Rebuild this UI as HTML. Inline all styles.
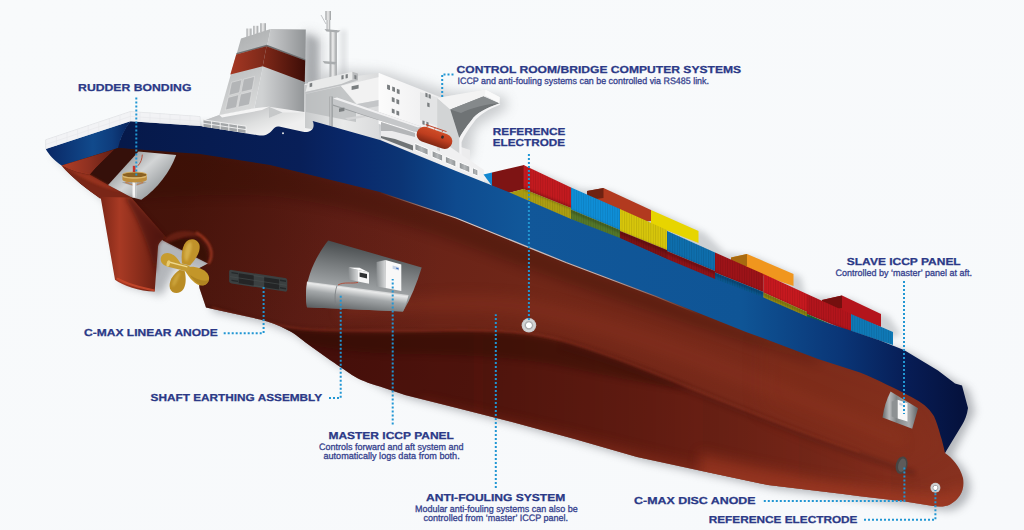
<!DOCTYPE html>
<html lang="en">
<head>
<meta charset="utf-8">
<title>ICCP and anti-fouling system ship diagram</title>
<style>
html,body{margin:0;padding:0;background:#f8fafb;}
body{width:1024px;height:530px;overflow:hidden;font-family:"Liberation Sans",sans-serif;}
svg{display:block;}
.h{font-family:"Liberation Sans",sans-serif;font-weight:700;font-size:10.1px;fill:#2b3987;stroke:#2b3987;stroke-width:0.25px;text-rendering:geometricPrecision;}
.s{font-family:"Liberation Sans",sans-serif;font-weight:400;font-size:9.3px;fill:#36428e;stroke:#36428e;stroke-width:0.3px;text-rendering:geometricPrecision;}
.dot{fill:none;stroke:#2196d3;stroke-width:2;stroke-dasharray:2 2;}
</style>
</head>
<body>
<svg width="1024" height="530" viewBox="0 0 1024 530">
<defs>
  <linearGradient id="gBg" x1="0" y1="0" x2="1" y2="1">
    <stop offset="0" stop-color="#f8fafb"/><stop offset="1" stop-color="#f7f9fb"/>
  </linearGradient>
  <filter id="blur3" x="-20%" y="-20%" width="140%" height="140%"><feGaussianBlur stdDeviation="3"/></filter>
  <filter id="blur4" x="-20%" y="-20%" width="140%" height="140%"><feGaussianBlur stdDeviation="4.5"/></filter>
  <filter id="blur6" x="-20%" y="-20%" width="140%" height="140%"><feGaussianBlur stdDeviation="6"/></filter>
  <filter id="blur10" x="-30%" y="-30%" width="160%" height="160%"><feGaussianBlur stdDeviation="10"/></filter>
  <filter id="blur1" x="-20%" y="-20%" width="140%" height="140%"><feGaussianBlur stdDeviation="1"/></filter>
  <filter id="blur2" x="-20%" y="-20%" width="140%" height="140%"><feGaussianBlur stdDeviation="2"/></filter>

  <!-- hull red -->
  <linearGradient id="gHull" gradientUnits="userSpaceOnUse" x1="200" y1="160" x2="960" y2="470">
    <stop offset="0" stop-color="#4f170d"/>
    <stop offset="0.18" stop-color="#642017"/>
    <stop offset="0.45" stop-color="#712718"/>
    <stop offset="0.8" stop-color="#7b2b1b"/>
    <stop offset="1" stop-color="#87311f"/>
  </linearGradient>
  <linearGradient id="gHullLow" gradientUnits="userSpaceOnUse" x1="560" y1="330" x2="520" y2="440">
    <stop offset="0" stop-color="#3e1009" stop-opacity="0.95"/>
    <stop offset="0.35" stop-color="#571a0e" stop-opacity="0.8"/>
    <stop offset="1" stop-color="#7a2a19" stop-opacity="0"/>
  </linearGradient>
  <!-- blue band -->
  <linearGradient id="gBlue" gradientUnits="userSpaceOnUse" x1="120" y1="0" x2="960" y2="0">
    <stop offset="0" stop-color="#06194a"/>
    <stop offset="0.214" stop-color="#081f58"/>
    <stop offset="0.274" stop-color="#09286a"/>
    <stop offset="0.333" stop-color="#0b3474"/>
    <stop offset="0.4" stop-color="#0e4a8e"/>
    <stop offset="0.476" stop-color="#115799"/>
    <stop offset="0.74" stop-color="#0f5596"/>
    <stop offset="0.86" stop-color="#0a3576"/>
    <stop offset="0.94" stop-color="#071c54"/>
    <stop offset="1" stop-color="#05123e"/>
  </linearGradient>
  <linearGradient id="gSternDark" gradientUnits="userSpaceOnUse" x1="130" y1="0" x2="440" y2="0">
    <stop offset="0" stop-color="#2a0904" stop-opacity="0.3"/>
    <stop offset="0.45" stop-color="#2a0904" stop-opacity="0.2"/>
    <stop offset="1" stop-color="#2a0904" stop-opacity="0"/>
  </linearGradient>
  <linearGradient id="gTransomBlue" gradientUnits="userSpaceOnUse" x1="50" y1="0" x2="128" y2="0">
    <stop offset="0" stop-color="#0a2a68"/>
    <stop offset="0.55" stop-color="#114a8c"/>
    <stop offset="0.8" stop-color="#0e3c7c"/>
    <stop offset="1" stop-color="#082660"/>
  </linearGradient>
  <linearGradient id="gTransomRed" gradientUnits="userSpaceOnUse" x1="62" y1="0" x2="116" y2="0">
    <stop offset="0" stop-color="#b03e26"/>
    <stop offset="0.5" stop-color="#8e3020"/>
    <stop offset="1" stop-color="#5e1d12"/>
  </linearGradient>
  <linearGradient id="gRudder" gradientUnits="userSpaceOnUse" x1="100" y1="0" x2="165" y2="0">
    <stop offset="0" stop-color="#7a2516"/>
    <stop offset="0.3" stop-color="#a83a24"/>
    <stop offset="0.6" stop-color="#8a2d1b"/>
    <stop offset="1" stop-color="#5c1a0f"/>
  </linearGradient>
</defs>

<rect width="1024" height="530" fill="url(#gBg)"/>

<g id="shadow" opacity="0.5" filter="url(#blur4)" transform="translate(7,4)">
  <path fill="#6f737a" d="M61.5,165 L45.8,149 L130.4,121.2 L315,121.3 L380,140 L456,171 L508.5,192 L667,259 L807,316.5 L904,350 L962,385.5 L968,408 L945,453
    C952,458 960,466 963,478 C965,490 960,499 950,504.5 C945,507 938,507 930,505.5 L905,501.5 L843,494 L768,485 L699.5,470.5 L637,457 L574.5,439 L512,422 L455,407.5 L405,395 L380,386.5 L330,360 L287.5,330 L260,319.5 L206,307.5 L199.4,288 L197.5,269 L170,262 L154.7,291.6 L115,279.8 L100,198 Z"/>
</g>

<g id="super">
  <defs>
    <linearGradient id="gFunL" gradientUnits="userSpaceOnUse" x1="225" y1="40" x2="262" y2="110">
      <stop offset="0" stop-color="#aeb0b1"/><stop offset="0.5" stop-color="#c4c6c7"/><stop offset="1" stop-color="#dcdddd"/>
    </linearGradient>
    <linearGradient id="gFunR" gradientUnits="userSpaceOnUse" x1="262" y1="0" x2="306" y2="0">
      <stop offset="0" stop-color="#d0d2d3"/><stop offset="0.5" stop-color="#b2b4b6"/><stop offset="1" stop-color="#909395"/>
    </linearGradient>
    <linearGradient id="gRedL" gradientUnits="userSpaceOnUse" x1="230" y1="0" x2="266" y2="0">
      <stop offset="0" stop-color="#a63823"/><stop offset="1" stop-color="#7a2819"/>
    </linearGradient>
    <linearGradient id="gRedR" gradientUnits="userSpaceOnUse" x1="264" y1="0" x2="306" y2="0">
      <stop offset="0" stop-color="#7e2818"/><stop offset="1" stop-color="#3c0d07"/>
    </linearGradient>
    <linearGradient id="gPipe" x1="0" y1="0" x2="1" y2="0">
      <stop offset="0" stop-color="#9a9d9f"/><stop offset="0.45" stop-color="#eeeeee"/><stop offset="1" stop-color="#9a9d9f"/>
    </linearGradient>
    <linearGradient id="gWallL" gradientUnits="userSpaceOnUse" x1="305" y1="0" x2="381" y2="0">
      <stop offset="0" stop-color="#c9cbcc"/><stop offset="0.5" stop-color="#e9eaea"/><stop offset="1" stop-color="#d9dadb"/>
    </linearGradient>
    <linearGradient id="gWallR" gradientUnits="userSpaceOnUse" x1="381" y1="0" x2="470" y2="0">
      <stop offset="0" stop-color="#fbfbfb"/><stop offset="0.6" stop-color="#eeeeef"/><stop offset="1" stop-color="#d8d9da"/>
    </linearGradient>
    <linearGradient id="gBaseV" gradientUnits="userSpaceOnUse" x1="240" y1="108" x2="250" y2="138">
      <stop offset="0" stop-color="#bfc1c3"/><stop offset="0.6" stop-color="#dfe0e0"/><stop offset="1" stop-color="#efefef"/>
    </linearGradient>
    <linearGradient id="gWin" x1="0" y1="0" x2="1" y2="0">
      <stop offset="0" stop-color="#8a8e90"/><stop offset="0.5" stop-color="#b3b6b8"/><stop offset="1" stop-color="#8e9294"/>
    </linearGradient>
    <linearGradient id="gBase" gradientUnits="userSpaceOnUse" x1="205" y1="0" x2="330" y2="0">
      <stop offset="0" stop-color="#cfd0d1"/><stop offset="0.5" stop-color="#ebebec"/><stop offset="1" stop-color="#f6f6f6"/>
    </linearGradient>
  </defs>

  <!-- soft shadow behind superstructure -->
  <path d="M306,30 L322,38 L322,75 L345,70 L385,72 L450,92 L505,96 L508,108 L475,128 L470,160 L300,120 Z" fill="#8a8d91" opacity="0.4" filter="url(#blur6)"/>
  <path d="M304,32 L318,40 L318,84 L304,88 Z" fill="#7d8084" opacity="0.45" filter="url(#blur3)"/>

  <!-- exhaust pipes -->
  <rect x="246.5" y="28.5" width="5" height="9" fill="url(#gPipe)"/>
  <rect x="253.3" y="25.8" width="5" height="9" fill="url(#gPipe)"/>
  <rect x="260.3" y="23.2" width="5.6" height="9" fill="url(#gPipe)"/>

  <!-- funnel -->
  <path d="M270.6,28.9 L305.8,29.6 L304.5,118 L254.4,108.2 Z" fill="url(#gFunR)"/>
  <path d="M241,38.6 L270.6,28.9 L254.4,108.2 L219.3,115.1 Z" fill="url(#gFunL)"/>
  <path d="M236.6,53 L266.8,44.8 L305.3,59.2 L305.2,60.8 L266.5,46.4 L236.2,54.6 Z" fill="#6c6f71"/>
  <path d="M236.2,54.4 L266.5,46.2 L262.7,66.2 L230.3,74.5 Z" fill="url(#gRedL)"/>
  <path d="M266.5,46.2 L305.2,60.6 L304.7,82 L262.7,66.2 Z" fill="url(#gRedR)"/>
  <!-- funnel louvres -->
  <g fill="#b3b5b7" stroke="#e6e6e6" stroke-width="0.5">
    <path d="M231.5,82.3 L241.9,79.6 L239.4,92.6 L228.8,95.4 Z"/>
    <path d="M243.6,79.2 L254.6,76.4 L252.2,89.6 L241,92.2 Z"/>
    <path d="M228.2,97.4 L238.9,94.6 L236.4,107.4 L225.4,110 Z"/>
    <path d="M240.6,94.2 L251.8,91.4 L249.3,104.6 L238,107.2 Z"/>
  </g>

  <!-- mast -->
  <rect x="340" y="30" width="7" height="48" fill="#9a9da1" opacity="0.22" filter="url(#blur2)"/>
  <rect x="329.6" y="30" width="7.2" height="50" fill="url(#gPipe)"/>
  <rect x="326.6" y="19" width="3.6" height="11" fill="url(#gPipe)"/>
  <rect x="325.4" y="11" width="5.6" height="9" fill="url(#gPipe)"/>
  <path d="M324.5,29 L340.5,30.5 L338,32.6 L326.5,31.6 Z" fill="#a9acae"/>
  <path d="M322.6,61 L336.5,62 L335,64.4 L324.6,63.6 Z" fill="#a9acae"/>
  <path d="M321,15 L326,24" stroke="#9da0a2" stroke-width="0.6"/>

  <!-- deckhouse base under funnel -->
  <path d="M203,121 L219.3,115.1 L254.4,108.2 L269,106.8 L304.5,112 L304.5,84 L341,78 L341,140 L203,140 Z" fill="url(#gBase)"/>
  <path d="M219.3,115.1 L254.4,108.2 L269,106.8 L269,118 L282.5,112.4 L304.5,112.4 L304.5,140 L203,140 L203,121 Z" fill="url(#gBaseV)"/>
  <path d="M269,106.8 L269,118 L282.5,112.4 Z" fill="#c6c8c9"/>
  <path d="M219.3,115.1 L254.4,108.2 L269,106.8 L262,110 L222,117.5 Z" fill="#f5f5f5"/>

  <!-- accommodation: left (aft) faces -->
  <path d="M305,85 L341,78 L379,73 L379,140 L305,128 Z" fill="url(#gWallL)"/>
  <!-- upper bridge deck box -->
  <path d="M308.3,82 L352.4,71.7 L358,73.4 L358,80.5 L341.3,84 L305.5,92 Z" fill="#e9eaea"/>
  <path d="M352.4,71.7 L358,73.4 L358,80.5 L352.4,79.4 Z" fill="#b9bbbd"/>
  <path d="M305.5,92 L341.3,84 L352.4,79.4 L358,80.5 L341.3,85.6 L305.5,93.6 Z" fill="#bfc1c3"/>
  <!-- recess shadow on aft face -->
  <path d="M306,94 L341,86 L356,104 L356,122 L306,112 Z" fill="#b7b9bb" opacity="0.75"/>
  <path d="M341,86 L379,77 L379,100 L357,104 Z" fill="#f2f2f2"/>
  <path d="M357,104 L379,100 L379,106 L357,110 Z" fill="#c4c6c8"/>
  <!-- vertical pole -->
  <rect x="329.6" y="96.5" width="3" height="30" fill="#8f9294"/>
  <rect x="330.4" y="96.5" width="1" height="30" fill="#dfe0e1"/>
  <!-- main block right face -->
  <path d="M379,73 L440,97 L440,142 L379,124 Z" fill="url(#gWallR)"/>
  <path d="M379,73 L379,124" stroke="#ffffff" stroke-width="0.8"/>
  <!-- diagonal beam (gangway) -->
  <path d="M345,118 L365,115 L372,110 L377,110 L370,116.5 L348,120 Z" fill="#d4d5d6"/>
  <path d="M333,98.4 L337,97.6 L421,126.4 L421,132.6 L414,131.6 L333,104.6 Z" fill="#c5c7c9"/>
  <path d="M333,98.4 L337,97.6 L421,126.4 L418,127.6 Z" fill="#f1f1f2"/>
  <path d="M333,104.6 L414,131.6 L421,132.6 L421,133.6 L333,105.8 Z" fill="#9a9d9f"/>
  <!-- lower deck / boat deck -->
  <path d="M381,122 L440,140 L470,150 L470,176 L381,140 Z" fill="#ececed"/>
  <path d="M381,122 L415,133 L415,137 L392,131 L381,131 Z" fill="#b4b6b8"/>
  <!-- bridge block -->
  <path d="M420,92 L437,97.5 L437,126 L420,120 Z" fill="#e3e4e5"/>
  <path d="M437.2,97.9 L485.4,89.6 L499.9,97.2 L499.6,103 L483.4,96.6 L450.3,109.6 L459.3,137.9 L460.6,160 L437.2,150 Z" fill="#e4e5e6"/>
  <path d="M437.2,97.9 L450.3,109.6 L459.3,137.9 L460.6,160 L437.2,150 Z" fill="#d2d4d5"/>
  <path d="M437.2,97.9 L485.4,89.6 L499.9,97.2 L483,96.3 L450.3,109.6 Z" fill="#f3f3f3"/>
  <path d="M485.4,89.6 L499.9,97.2 L499.4,103.2 L485,95.5 Z" fill="#fafafa"/>
  <path d="M450.3,109.6 L483.4,96.5 L499.2,103.4 C486,108 476,113 471.7,120 C466,127 462,133 459.3,137.9 Z" fill="#6f7375"/>
  <path d="M450.3,109.6 L483.4,96.5 L499.2,103.4 C490,103 470,108 461,113 Z" fill="#8b8f91" opacity="0.8"/>
  <!-- column under bridge wing -->
  <path d="M459.3,137.9 C462,133 466,127 471.7,120 C476,113 486,108 499.2,103.4 L500.4,104.6 C488,109.6 479,115 474,122 C468.5,129 464,136 461.6,142 L461.6,168 L459.3,166 Z" fill="#f4f4f5"/>
  <!-- windows on main block -->
  <g fill="#6e7274">
    <rect x="387.4" y="85" width="2.6" height="4" transform="skewY(20) translate(0,-141)"/>
  </g>
  <g fill="#7a7e80">
    <path d="M387.2,84.6 L390,85.6 L390,90 L387.2,89 Z"/><path d="M392.2,86.6 L395,87.6 L395,92 L392.2,91 Z"/><path d="M396.8,88.8 L399.6,89.8 L399.6,94.2 L396.8,93.2 Z"/>
    <path d="M391.8,97 L394.6,98 L394.6,102.4 L391.8,101.4 Z"/><path d="M396.4,99 L399.2,100 L399.2,104.4 L396.4,103.4 Z"/>
    <path d="M391.8,108.4 L394.6,109.4 L394.6,113.8 L391.8,112.8 Z"/><path d="M396.4,110.4 L399.2,111.4 L399.2,115.8 L396.4,114.8 Z"/>
    <path d="M425.4,92.8 L427.6,93.5 L427.6,97.5 L425.4,96.8 Z"/><path d="M428.6,94 L430.8,94.7 L430.8,98.7 L428.6,98 Z"/>
    <path d="M427.2,102.4 L429.6,103.2 L429.6,107.2 L427.2,106.4 Z"/>
    <path d="M422.4,120.4 L424.6,121.1 L424.6,125 L422.4,124.3 Z"/><path d="M426.4,121.8 L428.6,122.5 L428.6,126.4 L426.4,125.7 Z"/>
    <path d="M341.4,75.6 L343.6,75.1 L343.6,79 L341.4,79.5 Z"/><path d="M345.6,74.6 L347.8,74.1 L347.8,78 L345.6,78.5 Z"/>
    <path d="M354.4,75 L356.4,75.6 L356.4,79.4 L354.4,78.8 Z"/>
    <path d="M309.6,83.4 L312.2,82.8 L312.2,86.6 L309.6,87.2 Z"/>
    <path d="M351.6,86.2 L358.6,84.8 L358.6,88.6 L351.6,90 Z"/>
    <path d="M339,108.6 L344.4,107.6 L344.4,111 L339,112 Z"/>
  </g>
  <!-- lower deck windows -->
  <path d="M440,140 L484,170 L484,184 L440,166 Z" fill="#f0f0f1"/>
  <g fill="url(#gWin)" stroke="#fdfdfd" stroke-width="1">
    <path d="M414.9,143.4 L428.1,148.9 L428.1,155.3 L414.9,149.8 Z"/>
    <path d="M432.1,150.6 L442.7,155 L442.7,161.4 L432.1,157 Z"/>
    <path d="M445.3,156.2 L455.9,160.6 L455.9,167 L445.3,162.6 Z"/>
    <path d="M459.2,162 L469.8,166.4 L469.8,172.8 L459.2,168.4 Z"/>
    <path d="M472.4,167.6 L477.9,169.9 L477.9,176.1 L472.4,173.8 Z"/>
  </g>
  <path d="M381,138 L413,150.6 L413,145.4 L395,139 L381,136 Z" fill="#707476"/>
  <!-- lifeboat -->
  <linearGradient id="gBoat" gradientUnits="userSpaceOnUse" x1="0" y1="129" x2="0" y2="147">
    <stop offset="0" stop-color="#d24e28"/><stop offset="0.45" stop-color="#bf3e1f"/><stop offset="1" stop-color="#742210"/>
  </linearGradient>
  <g transform="rotate(19 434.5 137.5)">
    <rect x="416.2" y="130.2" width="36.8" height="15.2" rx="7.6" ry="7.6" fill="url(#gBoat)"/>
    <rect x="422" y="127.6" width="22" height="0.9" fill="#c0452b"/>
    <path d="M424,128 L424,130 M432,128 L432,130 M440,128 L440,130" stroke="#c0452b" stroke-width="0.7"/>
    <rect x="440.6" y="133" width="2.6" height="3" rx="1" fill="#34292a"/>
  </g>
</g>

<g id="containers">
  <defs>
    <pattern id="ribs" width="2.4" height="10" patternUnits="userSpaceOnUse" patternTransform="skewY(23)">
      <rect x="0" y="0" width="0.9" height="10" fill="#000" opacity="0.10"/>
    </pattern>
  </defs>
  <!-- soft shadow behind containers -->
  <path d="M525,166 L575,186 L605,188 L655,210 L700,230 L720,250 L750,254 L796,274 L800,292 L845,296 L884,314 L896,332 L860,340 L520,200 Z" fill="#7f8388" opacity="0.35" filter="url(#blur3)" transform="translate(5,3)"/>

  <!-- back row (far side) -->
  <path d="M587,191 L603.5,188 L651,210 L651,221 L620,224 Z" fill="#b23a1f"/>
  <path d="M587,191 L603.5,188 L603.5,198 L587,200 Z" fill="#6e2212"/>
  <path d="M651,210 L698.5,231 L698.5,243 L651,224 Z" fill="#e7d500"/>
  <path d="M731,257.5 L747,254 L793.5,274 L793.5,286 L747,270 Z" fill="#f0961e"/>
  <path d="M731,257.5 L747,254 L747,266 L731,268 Z" fill="#a86a10"/>
  <path d="M822,300 L842,295.5 L881,314 L881,327 L842,312 Z" fill="#b4151c"/>
  <path d="M822,300 L842,295.5 L842,308 L822,311 Z" fill="#74100f"/>

  <!-- stack 1: red over yellow -->
  <path d="M492,172.5 L524.2,164.9 L524.2,189 L508.5,193 L492,186 Z" fill="#7e1414"/>
  <path d="M508.5,193 L524.2,188.8 L524.2,199.3 Z" fill="#a89a10"/>
  <path d="M523.5,165 L571,187.5 L571,208 L523.5,189 Z" fill="#c41a1f"/>
  <path d="M523.5,189 L571,208 L571,220 L523.5,199 Z" fill="#ad9f12"/>
  <!-- blue over green -->
  <path d="M571,187.5 L620,209 L620,230 L571,209.5 Z" fill="#0f8fd8"/>
  <path d="M571,209.5 L620,230 L620,239 L571,219.5 Z" fill="#54782a"/>
  <!-- yellow over dark red -->
  <path d="M620,209 L667,230 L667,250 L620,231 Z" fill="#d8c70b"/>
  <path d="M620,231 L667,250 L667,259.5 L620,239 Z" fill="#7c1215"/>
  <!-- blue over red -->
  <path d="M667,231 L715,252.5 L715,271 L667,251 Z" fill="#0e6fae"/>
  <path d="M667,251 L715,271 L715,280 L667,260 Z" fill="#8e1318"/>
  <!-- dark red over blue -->
  <path d="M715,252.5 L763.5,274 L763.5,292 L715,272.5 Z" fill="#9e1318"/>
  <path d="M715,272.5 L763.5,292 L763.5,298.5 L715,280 Z" fill="#0b5890"/>
  <!-- red over olive -->
  <path d="M763.5,274 L807,294 L807,312 L763.5,292.5 Z" fill="#c8191f"/>
  <path d="M763.5,292.5 L807,312 L807,317.5 L763.5,298.5 Z" fill="#9a9014"/>
  <!-- red over green -->
  <path d="M807,294 L851,314 L851,332 L807,314 Z" fill="#b4151c"/>
  <path d="M807,314 L830,324 L807,318 Z" fill="#1f7a3a"/>
  <!-- blue -->
  <path d="M851,314 L893,332 L893,345 L851,331 Z" fill="#0f7ab8"/>
  <!-- small blue triangle near bridge -->
  <path d="M483.5,174.5 L492,172.5 L492,186 Z" fill="#1287d0"/>

  <!-- contact shadows -->
  <path d="M523.5,187 L571,206 L571,209.5 L620,230 L620,231 L667,250 L667,251 L715,271 L715,272.5 L763.5,292 L763.5,292.5 L807,312 L807,314 L851,331
   L851,334 L807,317 L807,315 L763.5,295.5 L763.5,295 L715,275.5 L715,274 L667,254 L667,253 L620,234 L620,233 L571,212.5 L571,209 L523.5,190 Z" fill="#000" opacity="0.22" filter="url(#blur1)"/>
  <!-- ribs overlay on side faces -->
  <path d="M523.5,165 L571,187.5 L620,209 L667,230 L715,252.5 L763.5,274 L807,294 L851,314 L893,332 L893,345 L851,331 L807,317.5 L763.5,298.5 L715,280 L667,260 L620,239 L571,220 L523.5,199 Z" fill="url(#ribs)"/>
</g>

<g id="hull">
  <!-- main red hull -->
  <path id="hullShape" fill="url(#gHull)" d="M61.5,165 L90,150 L118,140 L200,145 L270,155 L380,180 L456,205 L566,250 L656,285 L746,320 L818,348 L868,362 L894,372 L925,390 L945,412 L950,435 L945,453
    C952,458 960,466 963,478 C965,490 960,499 950,504.5 C945,507 938,507 930,505.5 L905,501.5 L860,496.3 L843,494 L768,485 L699.5,470.5 L637,457 L574.5,439 L512,422 L455,407.5 L405,395 L380,386.5 C368,383 360,380 352,375 C342,368 336,364 330,360 L312.5,347.5 C302,340 296,334 287.5,330 C278,325 270,322 260,319.5 L206,307.5 L199.4,288 L197.5,269 L208,263.5 L163,240.5 L131,198 L100,198 C88,190 72,178 61.5,165 Z"/>
  <clipPath id="cpHull"><path d="M61.5,165 L90,150 L118,140 L200,145 L270,155 L380,180 L456,205 L566,250 L656,285 L746,320 L818,348 L868,362 L894,372 L925,390 L945,412 L950,435 L945,453
    C952,458 960,466 963,478 C965,490 960,499 950,504.5 C945,507 938,507 930,505.5 L905,501.5 L860,496.3 L843,494 L768,485 L699.5,470.5 L637,457 L574.5,439 L512,422 L455,407.5 L405,395 L380,386.5 C368,383 360,380 352,375 C342,368 336,364 330,360 L312.5,347.5 C302,340 296,334 287.5,330 C278,325 270,322 260,319.5 L206,307.5 L199.4,288 L197.5,269 L208,263.5 L163,240.5 L131,198 L100,198 C88,190 72,178 61.5,165 Z"/></clipPath>
  <g clip-path="url(#cpHull)">
    <!-- darker stern area -->
    <rect x="60" y="120" width="400" height="260" fill="url(#gSternDark)"/>
    <path d="M118,146 L200,152 L270,163 L380,190 L456,216 L566,261 L656,295 L746,331 L818,358 L818,364 C760,348 700,328 640,308 C580,288 520,266 456,242 C400,222 330,202 270,196 C220,194 170,196 130,200 Z" fill="#2e0a04" opacity="0.33" filter="url(#blur6)"/>
    
    <!-- region below the crease: darker, fading toward the bow -->
    <linearGradient id="gBelow" gradientUnits="userSpaceOnUse" x1="220" y1="0" x2="930" y2="0">
      <stop offset="0" stop-color="#2e0904" stop-opacity="0.5"/>
      <stop offset="0.35" stop-color="#2e0904" stop-opacity="0.5"/>
      <stop offset="0.6" stop-color="#34100a" stop-opacity="0.34"/>
      <stop offset="0.85" stop-color="#3a120b" stop-opacity="0.12"/>
      <stop offset="1" stop-color="#3a120b" stop-opacity="0"/>
    </linearGradient>
    <path d="M205,306 C250,321 275,327 300,330 C340,333.5 400,332 450,331.5 C500,331 530,333 560,341 C600,352 640,368 690,389 C740,410 800,434 860,455 C890,466 915,474 935,480 L960,520 L200,520 Z" fill="url(#gBelow)" filter="url(#blur2)"/>
    <!-- extra dark just below the crease (aft/mid) -->
    <path d="M215,310 C250,321 275,327 300,330 C340,333.5 400,332 450,331.5 C500,331 530,333 560,341 C600,352 640,368 690,389 C650,386 600,374 550,364 C500,356 440,354 390,354 C350,352 320,348 300,342 C270,332 240,322 215,316 Z" fill="#2a0803" opacity="0.4" filter="url(#blur3)"/>
    <!-- thin crease shadow towards the bow -->
    <path d="M560,340 C620,356 680,380 740,405 C800,429 860,453 915,470 L915,476 C860,461 800,438 740,414 C680,390 620,367 560,350 Z" fill="#3a0e07" opacity="0.25" filter="url(#blur2)"/>
    <!-- crease highlight -->
    <path d="M212,307.5 C250,319.5 275,325.5 300,328.5 C340,332 400,330.5 450,330 C500,329.5 530,331.5 560,339.5 C600,350.5 640,366.5 690,387.5 C740,408 800,432 860,452" fill="none" stroke="#913621" stroke-width="2.2" opacity="0.55" filter="url(#blur1)"/>
    <!-- lighter bottom -->
    <path d="M420,400 C500,418 580,436 660,456 C760,480 860,494 950,500 L950,520 L420,520 Z" fill="#9a3822" opacity="0.4" filter="url(#blur6)"/>
    <path d="M700,452 C780,472 870,490 940,494 L968,484 L960,514 L700,500 Z" fill="#ac4027" opacity="0.5" filter="url(#blur6)"/>
    <!-- highlight above crease -->
    <path d="M340,318 C400,312 470,308 530,318 C600,332 680,362 760,394 C820,418 870,436 905,450 L900,430 C860,414 800,388 740,364 C680,340 600,312 530,298 C470,290 400,296 340,304 Z" fill="#8e3420" opacity="0.35" filter="url(#blur6)"/>
    <!-- bow upper is more orange -->
    <path d="M760,330 L900,380 L945,450 L900,470 L760,410 Z" fill="#93371f" opacity="0.12" filter="url(#blur10)"/>
  </g>
</g>

<g id="blueband">
  <path fill="url(#gBlue)" d="M130.4,121.2 L200,126 L258,135.2 C265,136.4 269,134 272,130.5 C274.5,127.5 276,126.2 279,126.6 L303,131.8 C308,132.8 312.4,131 313.4,127 C314,124 313.2,122 312.6,121 L380,140 L456,171 L508.5,192 L571,219 L620,238 L667,259 L715,279 L763.5,297.5 L807,316.5 L852,331 L880,340.5 L904,350 L938,370.5 L955,383.5 L962,385.5 L968,408 C967,415 965,420 962,425 L945,453
   C943.5,446 942,440 940.6,436 C938.5,428 936.5,421.5 934,416.2 C929,407.5 921,402 912.8,397.7 C904,393 895,388.5 886.4,384.5 C878,380.5 869,376 860,372.6 L818,359 L768,340 L746,332 L656,296 L566,262 L456,217.5 L380,192 L270,165 L200,154 L118,148.1 C120,138 124,129 130.4,121.2 Z"/>
  <!-- thin highlight at bottom edge of blue -->
  <linearGradient id="gHL" gradientUnits="userSpaceOnUse" x1="380" y1="0" x2="700" y2="0">
    <stop offset="0" stop-color="#e6ebf2" stop-opacity="0"/><stop offset="0.25" stop-color="#e6ebf2" stop-opacity="0.85"/><stop offset="0.7" stop-color="#e6ebf2" stop-opacity="0.7"/><stop offset="1" stop-color="#e6ebf2" stop-opacity="0"/>
  </linearGradient>
  <path fill="none" stroke="url(#gHL)" stroke-width="1.3" d="M380,192.5 L456,218 L566,262.5 L656,296.5 L700,314.5"/>
</g>

<g id="stern">
  <!-- transom blue -->
  <path fill="url(#gTransomBlue)" d="M45.8,149 L130.4,121.2 C124,130 120,139 118,148.1 L61.5,165.6 C54,160 49,155 45.8,149 Z"/>
  <!-- transom red (bright) -->
  <path fill="url(#gTransomRed)" d="M61.5,165.6 L114.7,149.3 C106,158 97,166 89.8,174.7 C78,173 69,170 61.5,165.6 Z"/>
  <!-- dark recess -->
  <path fill="#35100a" d="M114.7,149.3 L118,148.1 L138.5,150 L108.1,184.9 L89.8,174.7 C97,166 106,158 114.7,149.3 Z"/>
  <!-- stern lower curve (skeg top) -->
  <path fill="#7a2617" d="M61.5,165.6 C69,170 78,173 89.8,174.7 L108.1,184.9 L131.3,197.3 L128,200 L100,198.5 C88,190 72,178 61.5,165.6 Z"/>
  <path fill="#a33823" opacity="0.7" d="M61.5,165.6 C69,170 78,173 89.8,174.7 L108.1,184.9 L120,191.5 C105,189 85,181 61.5,165.6 Z" filter="url(#blur1)"/>
  <!-- gray cutaway (rudder bonding) -->
  <linearGradient id="gCutS" gradientUnits="userSpaceOnUse" x1="120" y1="150" x2="165" y2="200">
    <stop offset="0" stop-color="#7c8082"/><stop offset="0.45" stop-color="#d3d5d6"/><stop offset="0.75" stop-color="#a4a8aa"/><stop offset="1" stop-color="#808486"/>
  </linearGradient>
  <path fill="url(#gCutS)" d="M138.5,151.6 L176.2,155 C170,172 158,188 141.3,199.8 L131.3,197.3 L108.1,184.9 Z"/>
  <!-- rudder stock & bonding -->
  <path d="M121.8,182.6 L134.5,179.2 L146.8,182.6 L134.5,186.6 Z" fill="#9fa2a4"/>
  <path d="M125.5,182.6 L134.5,180.4 L143.2,182.6 L134.5,185.4 Z" fill="none" stroke="#c67a40" stroke-width="0.8"/>
  <rect x="132.5" y="181" width="3.8" height="16.6" fill="#f6f6f6"/>
  <rect x="135.2" y="181" width="1.1" height="16.6" fill="#b1b4b6"/>
  <!-- ring: back inner wall -->
  <ellipse cx="134.6" cy="174.8" rx="12.2" ry="2.7" fill="#8a6122"/>
  <!-- ring: front wall -->
  <path d="M122.4,174.8 C122.4,178.4 146.8,178.4 146.8,174.8 L146.8,179.6 C146.8,183.4 122.4,183.4 122.4,179.6 Z" fill="#bd8d3c"/>
  <path d="M122.4,174.8 C122.4,178.4 146.8,178.4 146.8,174.8 L146.8,176 C146.8,179.6 122.4,179.6 122.4,176 Z" fill="#ddb86a"/>
  <path d="M122.4,174.8 C122.4,171.2 146.8,171.2 146.8,174.8" fill="none" stroke="#d6ad5c" stroke-width="0.9"/>
  <path d="M142.3,154.6 C142,159 141,162.5 137.8,165.8" fill="none" stroke="#b5412a" stroke-width="0.9"/>
  <rect x="132.8" y="165.8" width="2.7" height="6.2" fill="#c5322a"/>
<!-- rudder -->
  <path fill="url(#gRudder)" d="M100.6,197 L131.3,197.5 L166.5,237.5 C161,240 158.5,243 158,247 L154.7,291.6 C147,291.5 139,290 132,287.7 C125,285.5 119,283 115,279.8 Z"/>
  <path fill="#c9492c" opacity="0.85" d="M116,279 C123,283.5 138,288.5 154.5,291.4 L154.7,289.5 C140,286.5 126,282.5 117.5,277.5 Z"/>
  <path fill="#3b0f08" opacity="0.5" d="M131.3,197.5 L166.5,237.5 C161,240 158.5,243 158,247 L156,275 C150,250 140,222 125,197.4 Z" filter="url(#blur2)"/>

  <!-- stern tube boss highlight -->
  <path fill="none" stroke="#a63a23" stroke-width="2.4" opacity="0.9" d="M196,232.5 C205,237 211.5,246 211.3,254 C211.2,259 210,262 208,263.6" filter="url(#blur1)"/>
  <path fill="#8c2e1b" opacity="0.45" d="M163,240.5 C168,235 176,231 185,231 C192,231 198,233 203,237 C196,235 188,235.5 181,238.5 C174,241.5 170,243 167.5,242.8 Z" filter="url(#blur1)"/>
  <path fill="#2c0a05" opacity="0.5" d="M167,242.6 L207,262.6 C209,255 206,246 199,240.5 C190,237 178,238 167,242.6 Z" filter="url(#blur1)"/>

  <!-- propeller -->
  <g id="prop">
    <!-- left blade -->
    <path fill="#c79c2e" d="M180,262.5 C176,255 169,251.5 164.5,253.5 C159.5,256 159.5,262 164,265 C169,268 176,267 181,266.5 Z"/>
    <!-- top blade -->
    <path fill="#c0922a" d="M182,263.5 C181,255 182,246 186.5,241.5 C190.5,237.8 197,238.8 199.2,244 C201.2,250 197,258 190,265.5 Z"/>
    <path fill="#dcb851" opacity="0.75" d="M184.5,258 C184,251 186,244.5 190,241.8 C193.5,243.5 191,254 186.5,262 Z" filter="url(#blur1)"/>
    <!-- bottom blade -->
    <path fill="#b98c25" d="M179.5,270 C173,274 168,282 170,288.5 C172,294.5 180,294.5 183.5,289 C186.5,284 186,276 184.5,270.5 Z"/>
    <path fill="#d4ae45" opacity="0.7" d="M178.5,272.5 C174.5,276 171.5,282 172.5,287 C175.5,286 178.5,279 180.5,273 Z" filter="url(#blur1)"/>
    <!-- right blade -->
    <path fill="#c39629" d="M186,267.5 C193,265.5 203,268 207.5,273.5 C211,278.5 208.5,284.5 203,285.5 C196,286.5 189.5,278 185.5,271.5 Z"/>
    <path fill="#a67c1e" opacity="0.7" d="M190,275 C194,281 199,285.5 203.5,285.3 C206.5,284.7 208.5,282.5 209,280 C203,282 196,279 190,275 Z"/>
    <!-- hub -->
    <path fill="#c39a33" d="M169,260.3 L188.5,265.5 C191,266.2 190,272 187.3,271.4 L168,266.8 C165.6,266.2 166.6,259.7 169,260.3 Z"/>
    <path fill="#f0d98c" d="M170,261.6 L187.5,266.2 L187.3,267.6 L169.8,263 Z"/>
    <ellipse cx="168.3" cy="263.5" rx="1.7" ry="3.2" fill="#e9cc72" transform="rotate(12 168.3 263.5)"/>
  </g>
</g>

<g id="details">
  <defs>
    <linearGradient id="gCutM" gradientUnits="userSpaceOnUse" x1="340" y1="240" x2="330" y2="312">
      <stop offset="0" stop-color="#44484a"/><stop offset="0.35" stop-color="#787c7e"/><stop offset="0.62" stop-color="#9da1a3"/><stop offset="1" stop-color="#6c7072"/>
    </linearGradient>
    <linearGradient id="gShaft" gradientUnits="userSpaceOnUse" x1="350" y1="283" x2="346" y2="312">
      <stop offset="0" stop-color="#8f9395"/><stop offset="0.2" stop-color="#e9eaea"/><stop offset="0.45" stop-color="#a3a7a9"/><stop offset="1" stop-color="#5c6062"/>
    </linearGradient>
    <linearGradient id="gBoxSide" x1="0" y1="0" x2="1" y2="0">
      <stop offset="0" stop-color="#8b8f91"/><stop offset="1" stop-color="#d6d8d9"/>
    </linearGradient>
    <radialGradient id="gElec" cx="0.5" cy="0.5" r="0.5">
      <stop offset="0" stop-color="#ffffff"/><stop offset="0.34" stop-color="#ffffff"/><stop offset="0.46" stop-color="#a4a6a8"/><stop offset="0.7" stop-color="#d6d7d8"/><stop offset="1" stop-color="#c2c4c6"/>
    </radialGradient>
    <linearGradient id="gSlave" gradientUnits="userSpaceOnUse" x1="882" y1="0" x2="918" y2="0">
      <stop offset="0" stop-color="#5f6365"/><stop offset="0.2" stop-color="#b9bbbd"/><stop offset="0.4" stop-color="#808486"/><stop offset="0.75" stop-color="#a9acae"/><stop offset="1" stop-color="#5d6163"/>
    </linearGradient>
  </defs>

  <!-- linear anode -->
  <path d="M231.6,269.9 L285,278.1 C286.6,278.4 287.3,279.4 287.3,280.8 L287.3,289.6 C287.3,291 286.4,291.9 285,291.6 L231.6,283.4 C230,283.1 229.1,282.1 229.1,280.7 L229.1,271.9 C229.1,270.5 230,269.6 231.6,269.9 Z" fill="#3b4041"/>
  <path d="M238.7,273.3 L253.7,275.6 L253.7,285.6 L238.7,283.3 Z" fill="#242526"/>
  <path d="M264.2,277.2 L279.1,279.5 L279.1,289.5 L264.2,287.2 Z" fill="#242526"/>
  <path d="M230,276.6 L286.6,285.3 M253.7,275.6 L264.2,277.2 M253.7,285.6 L264.2,287.2" stroke="#4a5051" stroke-width="0.6" fill="none"/>
  <path d="M231.5,272.6 L238,273.6 M231.5,280.4 L238,281.4 M280,280.2 L286,281.2 M280,287.8 L286,288.8" stroke="#25282a" stroke-width="1.4" fill="none"/>
  <!-- master panel cutaway -->
  <path d="M328.2,240.5 L421.7,267.4 C417,283 411,298 403,311.5 L307,307.3 C305.5,299 305.8,291 307,284.4 C309,276 311,270 313.8,264 C318,255 323,247 328.2,240.5 Z" fill="url(#gCutM)"/>
  <!-- shaft -->
  <path d="M307,281.5 L408.6,295 C407,301 405.2,306.5 403,311.5 L307,307.3 C305.5,299 305.8,290 307,281.5 Z" fill="url(#gShaft)"/>
  <path d="M337,285.5 C335,291 334.5,298 335.5,305" fill="none" stroke="#7a7e80" stroke-width="0.8"/>
  <path d="M338,285 C344,281.5 352,284 358,282.4" fill="none" stroke="#b24a34" stroke-width="0.9"/>
  <!-- small box -->
  <path d="M348.6,267.4 L358,270 L358,281.6 L348.6,279.6 Z" fill="url(#gBoxSide)"/>
  <path d="M358,270 L369,272.6 L369,283.8 L358,281.6 Z" fill="#f6f6f6"/>
  <path d="M348.6,267.4 L359.6,267.8 L369,272.6 L358,270 Z" fill="#fdfdfd"/>
  <path d="M359.6,272.4 L367,274 L367,278.4 L359.6,276.8 Z" fill="#2e3032"/>
  <!-- large cabinet -->
  <path d="M376.6,262 L385.5,260 L385.5,288 L376.6,286.4 Z" fill="url(#gBoxSide)"/>
  <path d="M385.5,260 L401.3,264.6 L401.3,291 L385.5,288 Z" fill="#f8f8f8"/>
  <path d="M376.6,262 L385.5,260 L401.3,264.6 L392,266 Z" fill="#ffffff" opacity="0"/>
  <path d="M392.6,265.4 L399,267.2 L399,270.6 L392.6,268.8 Z" fill="#c7d3e6"/>
  <path d="M396.2,267.6 L398.6,268.2 L398.6,269.4 L396.2,268.8 Z" fill="#3c6fc0"/>

  <!-- reference electrode (mid) -->
  <circle cx="528.9" cy="325.3" r="7.3" fill="url(#gElec)"/>
  <!-- slave panel cutaway -->
  <path d="M890.6,391.4 L918.1,408.3 L912.2,428.8 L882.5,417.5 C883.8,408 886.6,399 890.6,391.4 Z" fill="url(#gSlave)"/>
  <path d="M891.7,401.5 L897.7,399.7 L897.7,418.5 L891.7,416.5 Z" fill="#8d9193"/>
  <path d="M897.7,399.7 L907.5,403.3 L907.5,421.6 L897.7,418.5 Z" fill="#f7f7f7"/>
  <path d="M899.4,402.6 L902.6,403.7 L902.6,406 L899.4,404.9 Z" fill="#c9d2e0"/>
  <!-- disc anode -->
  <ellipse cx="901.6" cy="465.2" rx="5.8" ry="8.9" fill="#474544" transform="rotate(14 901.6 465.2)"/>
  <ellipse cx="902.1" cy="465.2" rx="3.8" ry="6.8" fill="#5d5b5a" transform="rotate(14 901.9 465.2)"/>
  <!-- reference electrode (bow) -->
  <circle cx="935.4" cy="487.8" r="5" fill="url(#gElec)"/>

  <!-- stern railings -->
  <g stroke="#d4d7da" stroke-width="0.7" fill="none" opacity="0.95">
    <path d="M45.8,149 L45.8,139.8 L130.4,111.6 L200,116.6 L200,126" />
    <path d="M45.8,144.4 L130.4,116.4 L200,121.3"/>
    <path d="M56.4,145.5 L56.4,136.3 M67,142 L67,132.8 M77.6,138.5 L77.6,129.3 M88.2,135 L88.2,125.8 M98.8,131.5 L98.8,122.3 M109.4,128 L109.4,118.8 M120,124.6 L120,115.2 M130.4,121.2 L130.4,111.6 M140,121.9 L140,112.3 M150,122.6 L150,113 M160,123.3 L160,113.7 M170,124 L170,114.4 M180,124.7 L180,115.1 M190,125.4 L190,115.8"/>
  </g>
  <path d="M45.8,149 L45.8,139.8 L130.4,111.6 L200,116.6 L200,126 L130.4,121.2 Z" fill="#eff0f2" opacity="0.7"/>
  <!-- side railing box near funnel -->
  <path d="M203,119.8 L246,126.2 L246,133 L203,126.8 Z" fill="#a3a6a8"/>
  <g stroke="#f4f4f4" stroke-width="0.9" fill="none">
    <path d="M203,119.8 L246,126.2 L246,133 M203,123.2 L246,129.6 M203,119.8 L203,126.8 M211.6,121.1 L211.6,128.1 M220.2,122.4 L220.2,129.4 M228.8,123.7 L228.8,130.7 M237.4,125 L237.4,132"/>
  </g>
  <!-- small porthole on blue -->
  <circle cx="283" cy="133.3" r="1" fill="#e8e8e8"/>
</g>

<g id="leaders" class="dot">
  <path d="M136.3,97.5 L136.3,176"/>
  <path d="M453.5,74.4 L442.2,74.4 L442.2,97.5"/>
  <path d="M528.9,154 L528.9,322"/>
  <path d="M904,281 L904,414"/>
  <path d="M223.7,333.2 L263.6,333.2 L263.6,286"/>
  <path d="M329,398 L340.7,398 L340.7,294"/>
  <path d="M392.7,424.6 L392.7,279"/>
  <path d="M495.8,488 L495.8,314.2"/>
  <path d="M763.8,500.9 L904.4,500.9 L904.4,466"/>
  <path d="M864,519.8 L935.4,519.8 L935.4,490"/>
</g>

<g id="labels">
  <text class="h" x="78.1" y="91.3" textLength="113.3" lengthAdjust="spacingAndGlyphs">RUDDER BONDING</text>
  <text class="h" x="456.6" y="72.8" textLength="284.5" lengthAdjust="spacingAndGlyphs">CONTROL ROOM/BRIDGE COMPUTER SYSTEMS</text>
  <text class="s" x="457.5" y="84.2" textLength="251.5" lengthAdjust="spacingAndGlyphs">ICCP and anti-fouling systems can be controlled via RS485 link.</text>
  <text class="h" x="492.8" y="135.2" textLength="72.6" lengthAdjust="spacingAndGlyphs">REFERENCE</text>
  <text class="h" x="492.8" y="145.9" textLength="72.3" lengthAdjust="spacingAndGlyphs">ELECTRODE</text>
  <text class="h" x="846.8" y="264.9" textLength="113.9" lengthAdjust="spacingAndGlyphs">SLAVE ICCP PANEL</text>
  <text class="s" x="835.6" y="276.1" textLength="136.4" lengthAdjust="spacingAndGlyphs">Controlled by ‘master’ panel at aft.</text>
  <text class="h" x="84.1" y="336.3" textLength="133.7" lengthAdjust="spacingAndGlyphs">C-MAX LINEAR ANODE</text>
  <text class="h" x="150.6" y="401.3" textLength="171.5" lengthAdjust="spacingAndGlyphs">SHAFT EARTHING ASSEMBLY</text>
  <text class="h" x="328.4" y="438.7" textLength="125.5" lengthAdjust="spacingAndGlyphs">MASTER ICCP PANEL</text>
  <text class="s" x="319" y="449.9" textLength="144.5" lengthAdjust="spacingAndGlyphs">Controls forward and aft system and</text>
  <text class="s" x="323.4" y="459.3" textLength="136.3" lengthAdjust="spacingAndGlyphs">automatically logs data from both.</text>
  <text class="h" x="426.0" y="501.4" textLength="139.3" lengthAdjust="spacingAndGlyphs">ANTI-FOULING SYSTEM</text>
  <text class="s" x="414.9" y="512.3" textLength="162.9" lengthAdjust="spacingAndGlyphs">Modular anti-fouling systems can also be</text>
  <text class="s" x="423.6" y="521.1" textLength="144.5" lengthAdjust="spacingAndGlyphs">controlled from ‘master’ ICCP panel.</text>
  <text class="h" x="634.1" y="504.3" textLength="121.5" lengthAdjust="spacingAndGlyphs">C-MAX DISC ANODE</text>
  <text class="h" x="708.7" y="523.4" textLength="148.8" lengthAdjust="spacingAndGlyphs">REFERENCE ELECTRODE</text>
</g>

</svg>
</body>
</html>
